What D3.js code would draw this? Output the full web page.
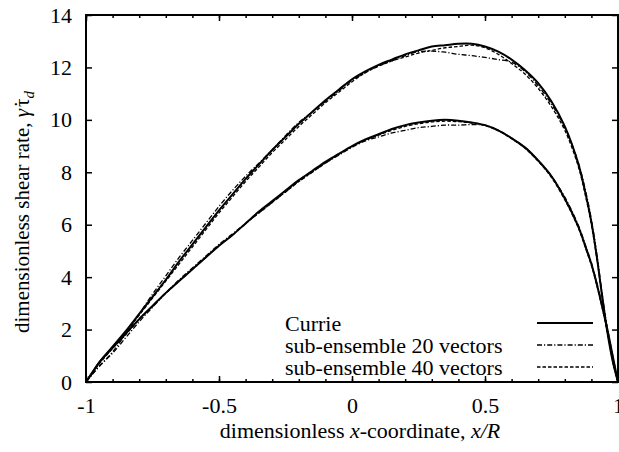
<!DOCTYPE html>
<html>
<head>
<meta charset="utf-8">
<script src="https://cdn.jsdelivr.net/npm/d3@7"></script>
<style>
  html, body { margin: 0; padding: 0; background: #fff; }
  svg { display: block; }
  text { font-family: "Liberation Serif", "Times New Roman", serif; fill: #000; }
</style>
</head>
<body>
<svg id="chart" width="619" height="452"></svg>
<script>
// Shared abscissa for all profiles
const xGrid = [-1, -0.98, -0.95, -0.9, -0.85, -0.8, -0.75, -0.7, -0.65, -0.6, -0.55, -0.5, -0.45, -0.4, -0.35, -0.3, -0.25, -0.2, -0.15, -0.1, -0.05, 0, 0.05, 0.1, 0.15, 0.2, 0.25, 0.3, 0.35, 0.4, 0.45, 0.5, 0.55, 0.6, 0.65, 0.7, 0.75, 0.8, 0.85, 0.88, 0.9, 0.92, 0.94, 0.96, 0.98, 1];

// Upper profile family
const currieHigh = [0, 0.3, 0.75, 1.35, 1.95, 2.6, 3.25, 3.9, 4.6, 5.25, 5.9, 6.55, 7.15, 7.75, 8.3, 8.85, 9.35, 9.85, 10.3, 10.75, 11.15, 11.55, 11.85, 12.1, 12.3, 12.5, 12.65, 12.8, 12.85, 12.9, 12.9, 12.8, 12.6, 12.3, 11.9, 11.4, 10.7, 9.75, 8.35, 7.1, 6.1, 4.8, 3.3, 1.9, 0.8, 0];
const sub20High = [0, 0.25, 0.6, 1.15, 1.85, 2.6, 3.35, 4.05, 4.75, 5.4, 6.05, 6.7, 7.3, 7.85, 8.35, 8.85, 9.4, 9.9, 10.3, 10.7, 11.1, 11.5, 11.8, 12.05, 12.25, 12.45, 12.6, 12.62, 12.58, 12.5, 12.45, 12.38, 12.3, 12.2, 11.85, 11.3, 10.6, 9.7, 8.4, 7.2, 6.2, 4.9, 3.4, 2.0, 0.8, 0];
const sub40High = [0, 0.3, 0.7, 1.3, 1.9, 2.55, 3.2, 3.85, 4.5, 5.15, 5.8, 6.45, 7.05, 7.65, 8.2, 8.75, 9.25, 9.75, 10.2, 10.65, 11.05, 11.45, 11.8, 12.05, 12.25, 12.4, 12.55, 12.65, 12.75, 12.8, 12.85, 12.75, 12.5, 12.15, 11.75, 11.2, 10.5, 9.6, 8.25, 7.0, 6.0, 4.75, 3.3, 1.9, 0.8, 0];

// Lower profile family
const currieLow = [0, 0.3, 0.75, 1.3, 1.85, 2.4, 2.9, 3.4, 3.85, 4.3, 4.75, 5.2, 5.6, 6.05, 6.5, 6.9, 7.3, 7.7, 8.05, 8.4, 8.7, 9.0, 9.25, 9.45, 9.65, 9.8, 9.9, 9.97, 10.0, 9.97, 9.9, 9.8, 9.6, 9.3, 8.95, 8.45, 7.85, 7.0, 5.95, 5.1, 4.5, 3.75, 2.9, 2.0, 1.0, 0];
const sub20Low = [0, 0.25, 0.6, 1.1, 1.7, 2.3, 2.85, 3.4, 3.9, 4.35, 4.8, 5.25, 5.65, 6.05, 6.45, 6.85, 7.25, 7.65, 8.0, 8.35, 8.65, 8.95, 9.2, 9.35, 9.5, 9.6, 9.7, 9.75, 9.8, 9.8, 9.82, 9.8, 9.6, 9.3, 8.95, 8.45, 7.85, 7.05, 6.0, 5.15, 4.55, 3.8, 2.95, 2.05, 1.0, 0];
const sub40Low = [0, 0.3, 0.72, 1.28, 1.82, 2.38, 2.88, 3.38, 3.85, 4.3, 4.75, 5.2, 5.6, 6.05, 6.45, 6.85, 7.25, 7.65, 8.0, 8.35, 8.68, 8.98, 9.22, 9.42, 9.6, 9.75, 9.85, 9.92, 9.95, 9.93, 9.88, 9.78, 9.58, 9.28, 8.92, 8.42, 7.8, 6.95, 5.9, 5.05, 4.45, 3.7, 2.85, 1.95, 0.95, 0];

const legendLabels = ["Currie", "sub-ensemble 20 vectors", "sub-ensemble 40 vectors"];
const xTicks = [-1, -0.5, 0, 0.5, 1];
const xTickLabels = ["-1", "-0.5", "0", "0.5", "1"];
const yTicks = [0, 2, 4, 6, 8, 10, 12, 14];

const styles = [
  { width: 2, dash: null },
  { width: 1.3, dash: "5,2,1.2,2" },
  { width: 1.3, dash: "3.5,2" }
];

const svg = d3.select("#chart");
const plotLeft = 86, plotRight = 618, plotTop = 15, plotBottom = 382;

const x = d3.scaleLinear().domain([-1, 1]).range([plotLeft, plotRight]);
const y = d3.scaleLinear().domain([0, 14]).range([plotBottom, plotTop]);

const line = d3.line()
  .x(d => x(d[0]))
  .y(d => y(d[1]))
  .curve(d3.curveCatmullRom.alpha(0.5));

const series = [
  { values: currieHigh, style: 0 },
  { values: currieLow, style: 0 },
  { values: sub20High, style: 1 },
  { values: sub20Low, style: 1 },
  { values: sub40High, style: 2 },
  { values: sub40Low, style: 2 }
];

const plot = svg.append("g");
series.forEach(s => {
  const st = styles[s.style];
  plot.append("path")
    .datum(xGrid.map((v, i) => [v, s.values[i]]))
    .attr("d", line)
    .attr("fill", "none")
    .attr("stroke", "#000")
    .attr("stroke-width", st.width)
    .attr("stroke-dasharray", st.dash);
});

// Axes: inward ticks on all four sides, minor ticks every 0.1 along x
const minorX = d3.range(-10, 11).map(i => i / 10);
const fontSize = 22;

function styleAxis(g) {
  g.select(".domain").remove();
  g.selectAll(".tick line").attr("stroke", "#000").attr("stroke-width", 1.5);
}

svg.append("g").attr("transform", `translate(0,${plotBottom})`)
  .call(d3.axisBottom(x).tickValues(minorX).tickSize(-3).tickFormat(""))
  .call(styleAxis);
svg.append("g").attr("transform", `translate(0,${plotTop})`)
  .call(d3.axisTop(x).tickValues(minorX).tickSize(-3).tickFormat(""))
  .call(styleAxis);

svg.append("g").attr("transform", `translate(0,${plotBottom})`)
  .call(d3.axisBottom(x).tickValues(xTicks).tickSize(-6).tickPadding(15)
    .tickFormat((d, i) => xTickLabels[i]))
  .call(styleAxis)
  .call(g => g.selectAll("text").attr("font-size", fontSize).attr("font-family", "Liberation Serif"));
svg.append("g").attr("transform", `translate(0,${plotTop})`)
  .call(d3.axisTop(x).tickValues(xTicks).tickSize(-6).tickFormat(""))
  .call(styleAxis);

svg.append("g").attr("transform", `translate(${plotLeft},0)`)
  .call(d3.axisLeft(y).tickValues(yTicks).tickSize(-6).tickPadding(14).tickFormat(d3.format("d")))
  .call(styleAxis)
  .call(g => g.selectAll("text").attr("font-size", fontSize).attr("font-family", "Liberation Serif"));
svg.append("g").attr("transform", `translate(${plotRight},0)`)
  .call(d3.axisRight(y).tickValues(yTicks).tickSize(-6).tickFormat(""))
  .call(styleAxis);

// Frame
svg.append("rect")
  .attr("x", plotLeft).attr("y", plotTop)
  .attr("width", plotRight - plotLeft).attr("height", plotBottom - plotTop)
  .attr("fill", "none").attr("stroke", "#000").attr("stroke-width", 2);

// Axis titles
const xTitle = svg.append("text")
  .attr("x", 360).attr("y", 438)
  .attr("text-anchor", "middle")
  .attr("font-size", fontSize);
xTitle.append("tspan").text("dimensionless ");
xTitle.append("tspan").attr("font-style", "italic").text("x");
xTitle.append("tspan").text("-coordinate, ");
xTitle.append("tspan").attr("font-style", "italic").text("x/R");

const yTitle = svg.append("text")
  .attr("transform", "translate(29,212) rotate(-90)")
  .attr("text-anchor", "middle")
  .attr("font-size", 21);
yTitle.append("tspan").text("dimensionless shear rate, ");
yTitle.append("tspan").attr("font-style", "italic").text("\u03B3\u0307");
yTitle.append("tspan").attr("dx", 2).text("\u03C4");
yTitle.append("tspan").attr("font-style", "italic").attr("font-size", 15).attr("dy", 5).text("d");

// Legend
const legend = svg.append("g");
const legendY = [323, 345, 367];
legendLabels.forEach((label, i) => {
  legend.append("text")
    .attr("x", 285).attr("y", legendY[i])
    .attr("dy", "0.35em")
    .attr("font-size", fontSize)
    .text(label);
  legend.append("line")
    .attr("x1", 537).attr("x2", 593)
    .attr("y1", legendY[i]).attr("y2", legendY[i])
    .attr("stroke", "#000")
    .attr("stroke-width", styles[i].width)
    .attr("stroke-dasharray", styles[i].dash);
});
</script>
</body>
</html>
